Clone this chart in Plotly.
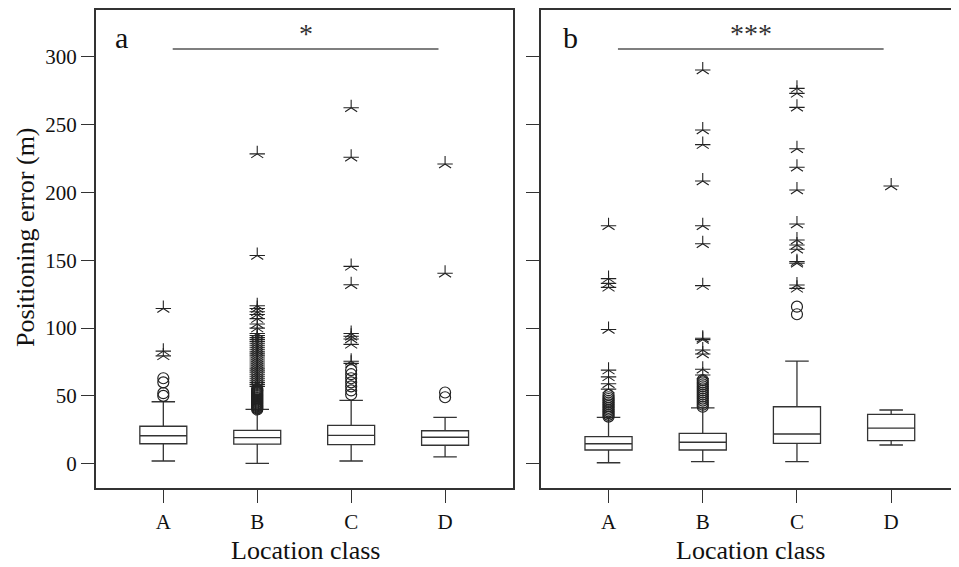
import plotly.graph_objects as go

categories = ["A", "B", "C", "D"]

# Panel a (box statistics)
a_q1 = [14.7, 14.5, 14.0, 13.6]
a_median = [20.6, 19.2, 20.9, 19.5]
a_q3 = [27.6, 24.6, 28.3, 24.3]
a_low = [2.0, 0.3, 2.0, 5.0]
a_high = [45.7, 40.1, 46.7, 34.2]

# Panel b (box statistics)
b_q1 = [10.1, 10.1, 15.0, 17.0]
b_median = [14.7, 15.8, 21.9, 26.3]
b_q3 = [19.9, 22.4, 42.0, 36.4]
b_low = [0.7, 1.5, 1.5, 13.8]
b_high = [34.2, 41.1, 75.7, 39.6]

# Panel a outliers
a_A_circles = [50, 52, 60, 63]
a_A_stars = [79.5, 83, 114.5]
a_B_circles = [40, 40.8, 41.5, 42.3, 43, 43.8, 44.5, 45.3, 46, 46.8, 47.5, 48.3, 49,
               49.8, 50.5, 51.3, 52, 52.8, 53.5, 54.3, 55]
a_B_stars = [57, 58.5, 60, 61.5, 63, 64.5, 66, 67.5, 69, 70.5, 72, 73.5, 75, 76.5,
             78, 79.5, 81, 82.5, 84, 85.5, 87, 88.5, 90, 91.5, 93, 94.5, 96,
             100, 103, 107, 110, 112, 114.5, 116.5, 153.5, 228.5]
a_C_circles = [51, 54, 57, 60, 63, 66, 69]
a_C_stars = [74, 75.5, 88, 92, 94, 96, 132, 145.5, 226, 262.5]
a_D_circles = [49, 52.5]
a_D_stars = [140.5, 221]

# Panel b outliers
b_A_circles = [34.7, 36, 37.3, 38.6, 39.9, 41.2, 42.5, 43.8, 45.1, 46.4, 47.7, 49, 50.7]
b_A_stars = [55, 59, 64, 69, 99, 130, 133, 136.5, 175.5]
b_B_circles = [42, 43.5, 45, 46.5, 48, 49.5, 51, 52.5, 54, 55.5, 57, 58.5, 60, 61.7]
b_B_stars = [65.4, 69.6, 80.9, 83.8, 91.5, 92.5, 131.3, 162.2, 175.5, 208.5, 235.3,
             246.1, 290.3]
b_C_circles = [110.2, 115.8]
b_C_stars = [129.3, 131.8, 147.8, 149, 158.1, 161.3, 165, 176.8, 201.8, 218.6,
             232.3, 262.8, 273.1, 276.8]
b_D_circles = []
b_D_stars = [204.8]

# Significance bars: [x_start, x_end, y]
sig_a = [0.1, 2.93, 305.8]
sig_b = [0.1, 2.92, 305.8]
sig_a_label = "*"
sig_b_label = "***"

FONT = "Liberation Serif, Times New Roman, serif"
LINE = "#333333"

# page body has an 8px default margin; size the figure to fit the window
OFF = 8
W, H = 959 - OFF, 567 - OFF


def px(x):
    return (x - OFF) / W


def py(y):
    return 1 - (y - OFF) / H


fig = go.Figure()


def add_panel(xa, ya, q1, med, q3, low, high, circles, stars):
    fig.add_trace(go.Box(
        x=categories, q1=q1, median=med, q3=q3, lowerfence=low, upperfence=high,
        xaxis=xa, yaxis=ya, width=0.5, whiskerwidth=0.5, boxpoints=False,
        fillcolor="white", line=dict(color=LINE, width=1.3), showlegend=False,
        hoverinfo="skip"))
    for cat, vals in zip(categories, circles):
        if vals:
            fig.add_trace(go.Scatter(
                x=[cat] * len(vals), y=vals, mode="markers", xaxis=xa, yaxis=ya,
                marker=dict(symbol="circle-open", size=11, color="#222",
                            line=dict(width=1.2)),
                showlegend=False, hoverinfo="skip"))
    for cat, vals in zip(categories, stars):
        if vals:
            for sym, sz in [("y-up-open", 10), ("line-ew-open", 11)]:
                fig.add_trace(go.Scatter(
                    x=[cat] * len(vals), y=vals, mode="markers", xaxis=xa, yaxis=ya,
                    marker=dict(symbol=sym, size=sz, color="#222",
                                line=dict(width=1.1, color="#222")),
                    showlegend=False, hoverinfo="skip"))


add_panel("x", "y", a_q1, a_median, a_q3, a_low, a_high,
          [a_A_circles, a_B_circles, a_C_circles, a_D_circles],
          [a_A_stars, a_B_stars, a_C_stars, a_D_stars])
add_panel("x2", "y2", b_q1, b_median, b_q3, b_low, b_high,
          [b_A_circles, b_B_circles, b_C_circles, b_D_circles],
          [b_A_stars, b_B_stars, b_C_stars, b_D_stars])

yr = [-17.7, 334.8]
xr = [-0.72, 3.72]
tickfont = dict(family=FONT, size=21, color="#111")

common_x = dict(range=xr, type="category", automargin=False,
                showline=True, linecolor=LINE, linewidth=1.5, mirror=True,
                ticks="outside", ticklen=14, tickcolor=LINE, tickwidth=1.2,
                showgrid=False, zeroline=False, tickfont=tickfont)
common_y = dict(domain=[py(487.7), py(9.7)], range=yr, automargin=False,
                showline=True, linecolor=LINE, linewidth=1.5,
                ticks="outside", ticklen=13, tickcolor=LINE, tickwidth=1.2,
                tickvals=[0, 50, 100, 150, 200, 250, 300],
                showgrid=False, zeroline=False, tickfont=tickfont)

fig.update_layout(
    width=W, height=H,
    margin=dict(l=0, r=0, t=0, b=0, autoexpand=False),
    paper_bgcolor="white", plot_bgcolor="white",
    showlegend=False,
    xaxis=dict(domain=[px(95.7), px(512.7)], anchor="y", **common_x),
    yaxis=dict(anchor="x", mirror=True, **common_y),
    xaxis2=dict(domain=[px(540.7), 1.0], anchor="y2", **common_x),
    yaxis2=dict(anchor="x2", mirror=False, showticklabels=False, **common_y),
)

# significance bars
for (xa, ya, sig, lab) in [("x", "y", sig_a, sig_a_label), ("x2", "y2", sig_b, sig_b_label)]:
    fig.add_shape(type="line", xref=xa, yref=ya, x0=sig[0], x1=sig[1], y0=sig[2], y1=sig[2],
                  line=dict(color="#555", width=1.3))
    fig.add_annotation(xref=xa, yref=ya, x=(sig[0] + sig[1]) / 2, y=sig[2],
                       text=lab, showarrow=False, yanchor="bottom", yshift=-2,
                       font=dict(family=FONT, size=28, color="#333"))


def label(x, y, text, size, angle=0):
    fig.add_annotation(xref="paper", yref="paper", x=px(x), y=py(y), text=text,
                       textangle=angle, showarrow=False, xanchor="center",
                       yanchor="middle", font=dict(family=FONT, size=size, color="#111"))


# panel letters
label(121, 37, "a", 30)
label(570, 37, "b", 30)

# axis titles
label(25, 237, "Positioning error (m)", 26, -90)
label(305, 550, "Location class", 26)
label(750, 550, "Location class", 26)

fig.write_html("out.html")
